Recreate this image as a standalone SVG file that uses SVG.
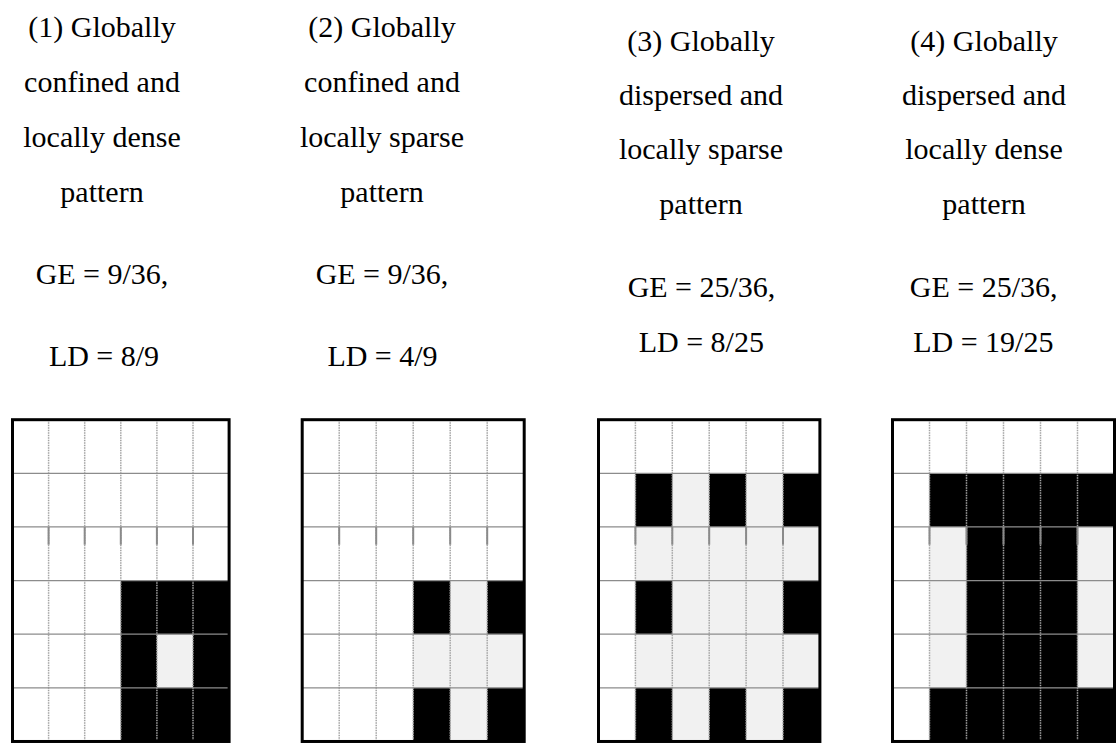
<svg xmlns="http://www.w3.org/2000/svg" width="1120" height="754" viewBox="0 0 1120 754">
<style>
.t{font-family:'Liberation Serif','Times New Roman',serif;font-size:30px;fill:#000;text-anchor:middle}
.k{fill:#000}
.g{fill:#f1f1f1}
.v{stroke:#a3a3a3;stroke-width:1.5;stroke-dasharray:1.5 1;fill:none}
.h{stroke:#8c8c8c;stroke-width:1.2;fill:none}
.s{stroke:#8a8a8a;stroke-width:2;fill:none}
.b{fill:none;stroke:#000;stroke-width:3}
</style>
<rect width="1120" height="754" fill="#fff"/>

<g id="label1">
<text class="t" x="102" y="36.5">(1) Globally</text>
<text class="t" x="102" y="91.5">confined and</text>
<text class="t" x="102" y="146.5">locally dense</text>
<text class="t" x="102" y="201.5">pattern</text>
<text class="t" x="102" y="284">GE = 9/36,</text>
<text class="t" x="104" y="366">LD = 8/9</text>
</g>
<g id="label2">
<text class="t" x="382" y="36.5">(2) Globally</text>
<text class="t" x="382" y="91.5">confined and</text>
<text class="t" x="382" y="146.5">locally sparse</text>
<text class="t" x="382" y="201.5">pattern</text>
<text class="t" x="382" y="284">GE = 9/36,</text>
<text class="t" x="382.5" y="366">LD = 4/9</text>
</g>
<g id="label3">
<text class="t" x="701" y="50.5">(3) Globally</text>
<text class="t" x="701" y="104.5">dispersed and</text>
<text class="t" x="701" y="159.3">locally sparse</text>
<text class="t" x="701" y="213.5">pattern</text>
<text class="t" x="701.5" y="296.7">GE = 25/36,</text>
<text class="t" x="701.3" y="351.7">LD = 8/25</text>
</g>
<g id="label4">
<text class="t" x="984" y="50.5">(4) Globally</text>
<text class="t" x="984" y="104.5">dispersed and</text>
<text class="t" x="984" y="159.3">locally dense</text>
<text class="t" x="984" y="213.5">pattern</text>
<text class="t" x="983.7" y="296.7">GE = 25/36,</text>
<text class="t" x="983.3" y="351.7">LD = 19/25</text>
</g>

<g id="grid1" transform="translate(12.5,419.7)">
<rect class="k" x="108.3" y="160.89" width="108.3" height="160.89"/>
<rect class="g" x="144.4" y="214.52" width="36.1" height="53.63"/>
<path class="v" d="M36.1 0V321.78M72.2 0V321.78M108.3 0V321.78M144.4 0V321.78M180.5 0V321.78"/>
<path class="s" d="M36.1 107.26V125M72.2 107.26V125M108.3 107.26V125M144.4 107.26V125M180.5 107.26V125"/>
<path class="h" d="M0 53.63H216.6M0 107.26H216.6M0 160.89H216.6M0 214.52H216.6M0 268.15H216.6"/>
<rect class="b" x="0" y="0" width="216.6" height="321.78"/>
</g>

<g id="grid2" transform="translate(302.2,419.7)">
<rect class="g" x="111" y="160.89" width="111" height="160.89"/>
<rect class="k" x="111" y="160.89" width="37" height="53.63"/>
<rect class="k" x="185" y="160.89" width="37" height="53.63"/>
<rect class="k" x="111" y="268.15" width="37" height="53.63"/>
<rect class="k" x="185" y="268.15" width="37" height="53.63"/>
<path class="v" d="M37 0V321.78M74 0V321.78M111 0V321.78M148 0V321.78M185 0V321.78"/>
<path class="s" d="M37 107.26V125M74 107.26V125M111 107.26V125M148 107.26V125M185 107.26V125"/>
<path class="h" d="M0 53.63H222M0 107.26H222M0 160.89H222M0 214.52H222M0 268.15H222"/>
<rect class="b" x="0" y="0" width="222" height="321.78"/>
</g>

<g id="grid3" transform="translate(598.5,419.7)">
<rect class="g" x="36.9" y="53.63" width="184.5" height="268.15"/>
<rect class="k" x="36.9" y="53.63" width="36.9" height="53.63"/>
<rect class="k" x="110.7" y="53.63" width="36.9" height="53.63"/>
<rect class="k" x="184.5" y="53.63" width="36.9" height="53.63"/>
<rect class="k" x="36.9" y="160.89" width="36.9" height="53.63"/>
<rect class="k" x="184.5" y="160.89" width="36.9" height="53.63"/>
<rect class="k" x="36.9" y="268.15" width="36.9" height="53.63"/>
<rect class="k" x="110.7" y="268.15" width="36.9" height="53.63"/>
<rect class="k" x="184.5" y="268.15" width="36.9" height="53.63"/>
<path class="v" d="M36.9 0V321.78M73.8 0V321.78M110.7 0V321.78M147.6 0V321.78M184.5 0V321.78"/>
<path class="s" d="M36.9 107.26V125M73.8 107.26V125M110.7 107.26V125M147.6 107.26V125M184.5 107.26V125"/>
<path class="h" d="M0 53.63H221.4M0 107.26H221.4M0 160.89H221.4M0 214.52H221.4M0 268.15H221.4"/>
<rect class="b" x="0" y="0" width="221.4" height="321.78"/>
</g>

<g id="grid4" transform="translate(892.5,419.7)">
<rect class="g" x="37" y="53.63" width="185" height="268.15"/>
<rect class="k" x="37" y="53.63" width="185" height="53.63"/>
<rect class="k" x="74" y="107.26" width="111" height="160.89"/>
<rect class="k" x="37" y="268.15" width="185" height="53.63"/>
<path class="v" d="M37 0V321.78M74 0V321.78M111 0V321.78M148 0V321.78M185 0V321.78"/>
<path class="s" d="M37 107.26V125M74 107.26V125M111 107.26V125M148 107.26V125M185 107.26V125"/>
<path class="h" d="M0 53.63H222M0 107.26H222M0 160.89H222M0 214.52H222M0 268.15H222"/>
<rect class="b" x="0" y="0" width="222" height="321.78"/>
</g>
</svg>
